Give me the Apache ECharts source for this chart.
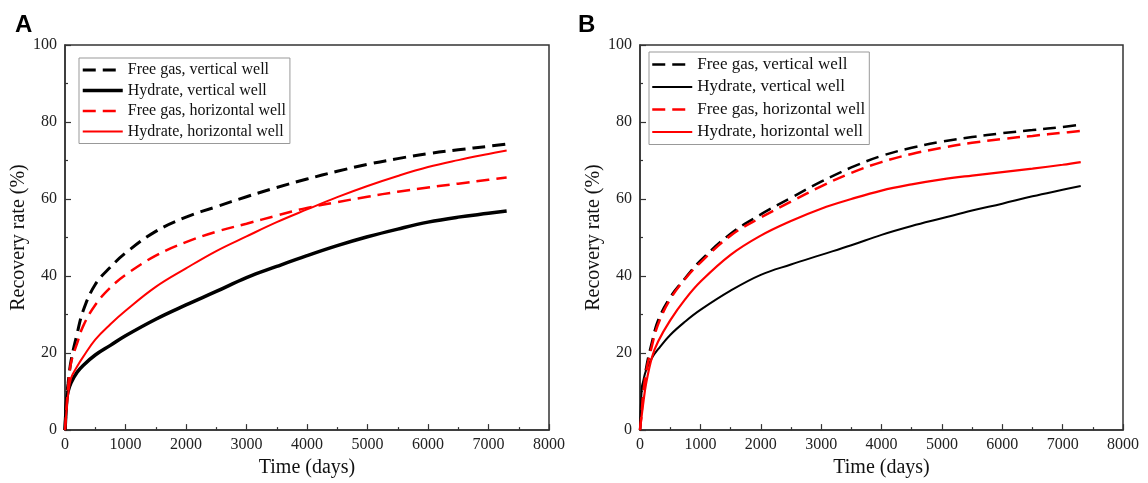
<!DOCTYPE html>
<html><head><meta charset="utf-8">
<script src="https://cdn.jsdelivr.net/npm/echarts@6/dist/echarts.min.js"></script>
<style>html,body{margin:0;padding:0;background:#fff}#c{width:1148px;height:483px}</style>
</head><body><div id="c"></div>
<script>
const days = [0, 30, 50, 100, 200, 300, 500, 750, 1000, 1500, 2000, 2500, 3000, 3500, 4000, 4500, 5000, 5500, 6000, 6500, 7000, 7300];
// Panel A
const A_freeGasVertical   = [0, 9, 12, 18, 25, 31, 37.8, 42.3, 46, 51.6, 55.3, 58, 60.6, 63, 65.2, 67.2, 69, 70.5, 71.8, 72.8, 73.7, 74.3];
const A_hydrateVertical   = [0, 8, 10, 12.3, 15, 16.8, 19.5, 22, 24.5, 28.8, 32.5, 36, 39.6, 42.5, 45.3, 47.9, 50.2, 52.2, 54, 55.3, 56.3, 56.9];
const A_freeGasHorizontal = [0, 7, 11, 17.5, 22.5, 27, 32.5, 37, 40.3, 45.3, 48.8, 51.5, 53.6, 55.7, 57.7, 59.2, 60.6, 61.9, 63, 64, 65, 65.6];
const A_hydrateHorizontal = [0, 6, 9, 13.5, 16.5, 19, 23.5, 27.5, 31, 37.2, 42, 46.5, 50.3, 54, 57.3, 60.5, 63.4, 66, 68.3, 70.1, 71.7, 72.6];
// Panel B
const B_freeGasVertical   = [0, 6, 10, 16, 23, 28.5, 34.5, 39.5, 44, 51, 56, 60.3, 64.5, 68.2, 71.2, 73.3, 74.9, 76.1, 77.1, 77.9, 78.7, 79.3];
const B_hydrateVertical   = [0, 11, 12.5, 15.5, 18.8, 21, 24.7, 28.2, 31.2, 36.2, 40.3, 43, 45.5, 48, 50.7, 53, 55, 57, 58.8, 60.7, 62.4, 63.4];
const B_freeGasHorizontal = [0, 5, 9, 15, 22, 27.5, 34, 39.3, 43.5, 50.5, 55.2, 59.3, 63.3, 66.8, 69.6, 71.7, 73.3, 74.6, 75.6, 76.4, 77.2, 77.7];
const B_hydrateHorizontal = [0, 4, 6.5, 12, 19, 23, 28.5, 34, 38.5, 45.5, 50.5, 54.3, 57.5, 60, 62.2, 63.8, 65.1, 66.1, 67, 67.9, 68.9, 69.6];

const names = ['Free gas, vertical well', 'Hydrate, vertical well', 'Free gas, horizontal well', 'Hydrate, horizontal well'];
const xTicks = {min: 0, max: 8000, interval: 1000};
const yTicks = {min: 0, max: 100, interval: 20};

const serif = '"Liberation Serif", "Times New Roman", serif';
const pair = (vals) => days.map((d, i) => [d, vals[i]]);

function axisX(gi) {
  return {
    type: 'value', gridIndex: gi, min: xTicks.min, max: xTicks.max, interval: xTicks.interval,
    name: 'Time (days)', nameLocation: 'middle', nameGap: 27,
    nameTextStyle: {fontFamily: serif, fontSize: 20, color: '#111'},
    axisLine: {lineStyle: {color: '#333', width: 1.5}},
    axisTick: {inside: true, length: 6, lineStyle: {color: '#333', width: 1.2}},
    minorTick: {show: true, splitNumber: 2, length: 3, lineStyle: {color: '#333', width: 1.2}},
    axisLabel: {fontFamily: serif, fontSize: 16, color: '#222', margin: 7, formatter: (v) => String(v)},
    splitLine: {show: false}
  };
}
function axisY(gi) {
  return {
    type: 'value', gridIndex: gi, min: yTicks.min, max: yTicks.max, interval: yTicks.interval,
    name: 'Recovery rate (%)', nameLocation: 'middle', nameGap: 35,
    nameTextStyle: {fontFamily: serif, fontSize: 20, color: '#111'},
    axisLine: {lineStyle: {color: '#333', width: 1.5}},
    axisTick: {inside: true, length: 6, lineStyle: {color: '#333', width: 1.2}},
    minorTick: {show: true, splitNumber: 2, length: 3, lineStyle: {color: '#333', width: 1.2}},
    axisLabel: {fontFamily: serif, fontSize: 16, color: '#222', margin: 8, formatter: (v) => String(v)},
    splitLine: {show: false}
  };
}
function line(name, gi, vals, color, width, dashed) {
  return {
    name: name, type: 'line', xAxisIndex: gi, yAxisIndex: gi, data: pair(vals),
    showSymbol: false, symbol: 'none', smooth: 0.4,
    lineStyle: {color: color, width: width, type: dashed ? [13, 7] : 'solid'},
    itemStyle: {color: color}, animation: false
  };
}
const stylesA = [['#000', 3, true], ['#000', 3.5, false], ['#ff0000', 2.5, true], ['#ff0000', 2, false]];
const stylesB = [['#000', 2.5, true], ['#000', 2, false], ['#ff0000', 2.5, true], ['#ff0000', 2.2, false]];
const dataA = [A_freeGasVertical, A_hydrateVertical, A_freeGasHorizontal, A_hydrateHorizontal];
const dataB = [B_freeGasVertical, B_hydrateVertical, B_freeGasHorizontal, B_hydrateHorizontal];

function legend(left, top, fs, gap, styles) {
  return {
    orient: 'vertical', left: left, top: top, itemWidth: 40, itemHeight: 12, itemGap: gap,
    padding: [4, 4, 4, 2], borderColor: '#999', borderWidth: 1, backgroundColor: '#fff',
    selectedMode: false,
    itemStyle: {color: 'rgba(0,0,0,0)', borderWidth: 0, opacity: 0},
    textStyle: {fontFamily: serif, fontSize: fs, color: '#111'},
    data: names.map((n, i) => ({name: n, lineStyle: {color: styles[i][0], width: styles[i][1], type: styles[i][2] ? [13, 7] : 'solid'}}))
  };
}

const series = [];
names.forEach((n, i) => series.push(line(n, 0, dataA[i], stylesA[i][0], stylesA[i][1], stylesA[i][2])));
names.forEach((n, i) => series.push(line(n, 1, dataB[i], stylesB[i][0], stylesB[i][1], stylesB[i][2])));

const chart = echarts.init(document.getElementById('c'), null, {renderer: 'canvas'});
chart.setOption({
  backgroundColor: '#fff',
  animation: false,
  title: [
    {text: 'A', left: 10, top: 8, textStyle: {fontFamily: '"Liberation Sans", Arial, sans-serif', fontSize: 24, fontWeight: 'bold', color: '#000'}},
    {text: 'B', left: 573, top: 8, textStyle: {fontFamily: '"Liberation Sans", Arial, sans-serif', fontSize: 24, fontWeight: 'bold', color: '#000'}}
  ],
  grid: [
    {left: 65, top: 45, width: 484, height: 390, show: true, borderColor: '#333', borderWidth: 1.5, backgroundColor: 'transparent'},
    {left: 640, top: 45, width: 483, height: 390, show: true, borderColor: '#333', borderWidth: 1.5, backgroundColor: 'transparent'}
  ],
  xAxis: [axisX(0), axisX(1)],
  yAxis: [axisY(0), axisY(1)],
  legend: [legend(79, 58, 16, 4.5, stylesA), legend(649, 52, 17, 5.5, stylesB)],
  series: series
});
</script></body></html>
